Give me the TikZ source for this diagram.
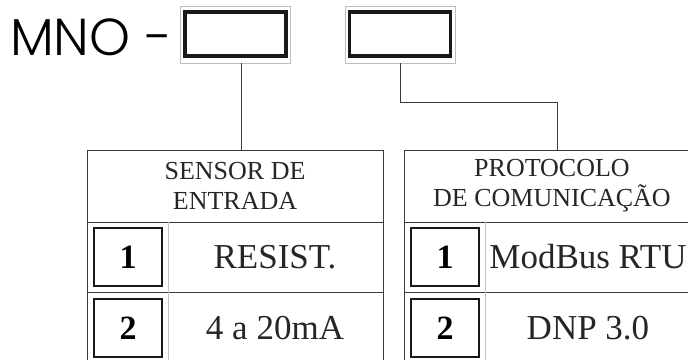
\documentclass[tikz,border=0pt]{standalone}
\usepackage{fontspec}
\setmainfont{Liberation Serif}
\newfontfamily\codefont{Poppins Light}
\usetikzlibrary{positioning}
\definecolor{FrameGray}{HTML}{BDBDBD}
\definecolor{RuleGray}{HTML}{3A3A3A}
\definecolor{SepGray}{HTML}{C4C4C4}

\tikzset{
  frame/.style={draw=FrameGray, line width=0.8pt, minimum width=110pt, minimum height=57pt, inner sep=0pt},
  codebox/.style={draw=black!90, line width=3.2pt, minimum width=101pt, minimum height=44pt, inner sep=0pt},
  head/.style={draw=RuleGray, line width=1pt, minimum height=72pt, inner sep=0pt, align=center,
    font=\fontsize{26}{30}\selectfont, text=black!85},
  numbox/.style={draw=black!90, line width=2.8pt, minimum width=68pt, minimum height=58pt, inner sep=0pt,
    font=\fontsize{34}{34}\selectfont\bfseries},
  valtext/.style={font=\fontsize{35}{35}\selectfont, text=black!85, inner sep=0pt},
  link/.style={draw=RuleGray, line width=1pt}
}

\begin{document}
\begin{tikzpicture}[x=1pt, y=-1pt]
  \clip (0,0) rectangle (688,359);
  % Code prefix
  \node[anchor=west, inner sep=0pt, font=\codefont\fontsize{52}{52}\selectfont] (prefix) at (10,37) {MNO\hspace{15pt}-};
  % Code boxes
  \node[frame] (frameA) at (235,34.5) {};
  \node[codebox] (codeA) at (235.5,34) {};
  \node[frame] (frameB) at (400,34.5) {};
  \node[codebox] (codeB) at (400,34) {};

  % Sensor table
  \node[head, minimum width=296pt] (headA) at (235,186) {SENSOR DE\\ENTRADA};
  \draw[RuleGray, line width=1pt] (87,222) rectangle (383,292) (87,292) rectangle (383,362);
  \draw[SepGray, line width=0.8pt] (168,222) -- (168,362);
  \foreach \n/\v/\y in {1/RESIST./257, 2/4 a 20mA/328}{
    \node[numbox] (numA\n) at (128,\y) {\n};
    \node[valtext] (valA\n) at (275,\y) {\v};
  }

  % Protocol table
  \node[head, minimum width=296pt] (headB) at (552,186) {PROTOCOLO\\DE COMUNICAÇÃO};
  \draw[RuleGray, line width=1pt] (404,222) rectangle (700,292) (404,292) rectangle (700,362);
  \draw[SepGray, line width=0.8pt] (485,222) -- (485,362);
  \foreach \n/\v/\y in {1/ModBus RTU/257, 2/DNP 3.0/328}{
    \node[numbox] (numB\n) at (445,\y) {\n};
    \node[valtext] (valB\n) at (588,\y) {\v};
  }

  % Links
  \draw[link] ([xshift=6pt]frameA.south) -- ([xshift=6pt]headA.north);
  \draw[link] (frameB.south) -- ++(0,39) -| ([xshift=5pt]headB.north);
\end{tikzpicture}
\end{document}
